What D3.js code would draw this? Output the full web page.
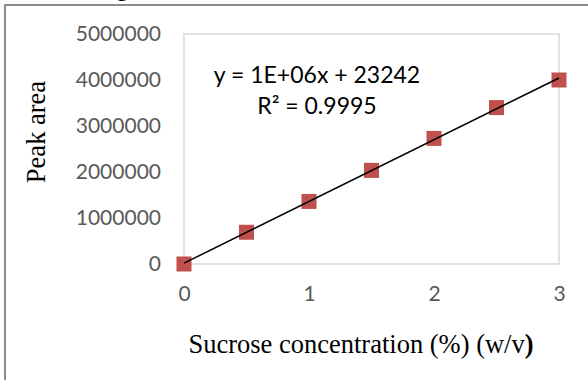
<!DOCTYPE html>
<html>
<head>
<meta charset="utf-8">
<script src="https://cdn.jsdelivr.net/npm/d3@7/dist/d3.min.js"></script>
<style>
  html, body { margin: 0; padding: 0; background: #fff; }
  svg { display: block; }
</style>
</head>
<body>
<svg id="chart" width="588" height="380"></svg>
<script>
// Sucrose calibration: concentration (% w/v) vs. peak area
const concentrations = [0, 0.5, 1, 1.5, 2, 2.5, 3];
const peakAreas = [0, 690000, 1360000, 2035000, 2730000, 3400000, 4000000];
const yTicks = [0, 1000000, 2000000, 3000000, 4000000, 5000000];
const xTicks = [0, 1, 2, 3];
const equationLabel = "y = 1E+06x + 23242";
const r2Label = "R² = 0.9995";
const xTitle = "Sucrose concentration (%) (w/v";
const xTitleClose = ")";
const yTitle = "Peak area";

const svg = d3.select("#chart");
const plot = { left: 184, right: 559, top: 34, bottom: 264 };

const x = d3.scaleLinear().domain([0, 3]).range([plot.left, plot.right]);
const y = d3.scaleLinear().domain([0, 5000000]).range([plot.bottom, plot.top]);

// descender of the caption line above the frame
svg.append("text").attr("x", 116).attr("y", -4)
  .attr("font-family", "Liberation Serif").attr("font-size", 24).text("g");

// outer frame (left and top edges)
svg.append("path")
  .attr("d", "M5,380 V5 H588")
  .attr("fill", "none").attr("stroke", "#8c8c8c").attr("stroke-width", 2);

// plot area border
svg.append("rect")
  .attr("x", plot.left).attr("y", plot.top)
  .attr("width", plot.right - plot.left).attr("height", plot.bottom - plot.top)
  .attr("fill", "none").attr("stroke", "#d9d9d9").attr("stroke-width", 1.5);

// y axis labels
const yAxis = d3.axisLeft(y).tickValues(yTicks).tickSize(0).tickPadding(23)
  .tickFormat(d3.format("d"));
const gy = svg.append("g").attr("transform", `translate(${plot.left},0)`).call(yAxis);
gy.select(".domain").remove();
gy.selectAll("text").attr("font-family", "Lato").attr("font-size", 21).attr("fill", "#595959");

// x axis labels
const xAxis = d3.axisBottom(x).tickValues(xTicks).tickSize(0).tickPadding(22)
  .tickFormat(d3.format("d"));
const gx = svg.append("g").attr("transform", `translate(0,${plot.bottom})`).call(xAxis);
gx.select(".domain").remove();
gx.selectAll("text").attr("font-family", "Lato").attr("font-size", 21).attr("fill", "#595959");

// markers
const m = 15;
svg.append("g").selectAll("rect").data(concentrations).join("rect")
  .attr("x", (d) => x(d) - m / 2)
  .attr("y", (d, i) => y(peakAreas[i]) - m / 2)
  .attr("width", m).attr("height", m)
  .attr("fill", "#C0504D");

// least-squares trendline
const mx = d3.mean(concentrations), my = d3.mean(peakAreas);
let sxy = 0, sxx = 0;
concentrations.forEach((c, i) => { sxy += (c - mx) * (peakAreas[i] - my); sxx += (c - mx) ** 2; });
const slope = sxy / sxx, intercept = my - slope * mx;
svg.append("line")
  .attr("x1", x(0)).attr("y1", y(intercept))
  .attr("x2", x(3)).attr("y2", y(intercept + slope * 3))
  .attr("stroke", "#000").attr("stroke-width", 1.5);

// regression equation
const eq = svg.append("text").attr("font-family", "Lato").attr("font-size", 23)
  .attr("fill", "#000").attr("text-anchor", "middle");
eq.append("tspan").attr("x", 317).attr("y", 83).text(equationLabel);
eq.append("tspan").attr("x", 317).attr("y", 114).text(r2Label);

// axis titles
const xt = svg.append("text").attr("x", 361).attr("y", 353)
  .attr("text-anchor", "middle").attr("font-family", "Liberation Serif")
  .attr("font-size", 26.5).attr("fill", "#000");
xt.append("tspan").text(xTitle);
xt.append("tspan").attr("font-weight", "bold").text(xTitleClose);

svg.append("text")
  .attr("transform", "translate(45,132) rotate(-90)")
  .attr("text-anchor", "middle").attr("font-family", "Liberation Serif")
  .attr("font-size", 26.5).attr("fill", "#000").text(yTitle);
</script>
</body>
</html>
